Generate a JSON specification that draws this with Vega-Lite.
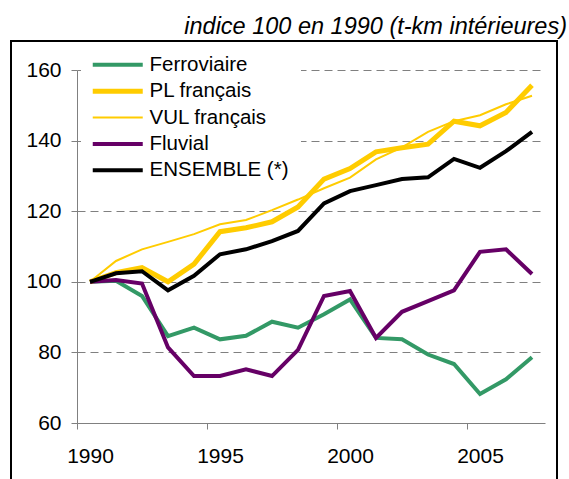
{
  "$schema": "https://vega.github.io/schema/vega-lite/v6.json",
  "autosize": "none",
  "padding": {"left": 11, "top": 41, "right": 12, "bottom": -1},
  "width": 546,
  "height": 439,
  "background": "white",
  "config": {
    "view": {"stroke": "black", "strokeWidth": 2},
    "font": "Liberation Sans",
    "axis": {"labelFont": "Liberation Sans", "labelFontSize": 21, "labelColor": "black", "domainColor": "#808080", "tickColor": "#808080", "domainWidth": 1, "tickWidth": 1},
    "legend": {"labelFont": "Liberation Sans", "labelFontSize": 20.5, "labelColor": "black"}
  },
  "title": {
    "text": "indice 100 en 1990 (t-km intérieures)",
    "anchor": "end",
    "frame": "group",
    "font": "Liberation Sans",
    "fontStyle": "italic",
    "fontWeight": "normal",
    "fontSize": 23.5,
    "color": "black",
    "baseline": "alphabetic",
    "offset": 9,
    "dx": 10,
    "dy": 25
  },
  "data": {
    "values": [
      {"serie": "Ferroviaire", "annee": 1990, "valeur": 100},
      {"serie": "Ferroviaire", "annee": 1991, "valeur": 100.3},
      {"serie": "Ferroviaire", "annee": 1992, "valeur": 96.0},
      {"serie": "Ferroviaire", "annee": 1993, "valeur": 84.6},
      {"serie": "Ferroviaire", "annee": 1994, "valeur": 87.0},
      {"serie": "Ferroviaire", "annee": 1995, "valeur": 83.7},
      {"serie": "Ferroviaire", "annee": 1996, "valeur": 84.7},
      {"serie": "Ferroviaire", "annee": 1997, "valeur": 88.7},
      {"serie": "Ferroviaire", "annee": 1998, "valeur": 87.0},
      {"serie": "Ferroviaire", "annee": 1999, "valeur": 90.8},
      {"serie": "Ferroviaire", "annee": 2000, "valeur": 95.0},
      {"serie": "Ferroviaire", "annee": 2001, "valeur": 84.1},
      {"serie": "Ferroviaire", "annee": 2002, "valeur": 83.7},
      {"serie": "Ferroviaire", "annee": 2003, "valeur": 79.4},
      {"serie": "Ferroviaire", "annee": 2004, "valeur": 76.7},
      {"serie": "Ferroviaire", "annee": 2005, "valeur": 68.2},
      {"serie": "Ferroviaire", "annee": 2006, "valeur": 72.4},
      {"serie": "Ferroviaire", "annee": 2007, "valeur": 78.6},
      {"serie": "PL français", "annee": 1990, "valeur": 100},
      {"serie": "PL français", "annee": 1991, "valeur": 102.6},
      {"serie": "PL français", "annee": 1992, "valeur": 104.0},
      {"serie": "PL français", "annee": 1993, "valeur": 100.0},
      {"serie": "PL français", "annee": 1994, "valeur": 105.0},
      {"serie": "PL français", "annee": 1995, "valeur": 114.2},
      {"serie": "PL français", "annee": 1996, "valeur": 115.3},
      {"serie": "PL français", "annee": 1997, "valeur": 117.0},
      {"serie": "PL français", "annee": 1998, "valeur": 121.2},
      {"serie": "PL français", "annee": 1999, "valeur": 129.1},
      {"serie": "PL français", "annee": 2000, "valeur": 132.1},
      {"serie": "PL français", "annee": 2001, "valeur": 136.8},
      {"serie": "PL français", "annee": 2002, "valeur": 138.0},
      {"serie": "PL français", "annee": 2003, "valeur": 139.0},
      {"serie": "PL français", "annee": 2004, "valeur": 145.5},
      {"serie": "PL français", "annee": 2005, "valeur": 144.2},
      {"serie": "PL français", "annee": 2006, "valeur": 148.0},
      {"serie": "PL français", "annee": 2007, "valeur": 155.7},
      {"serie": "VUL français", "annee": 1990, "valeur": 100},
      {"serie": "VUL français", "annee": 1991, "valeur": 105.9},
      {"serie": "VUL français", "annee": 1992, "valeur": 109.2},
      {"serie": "VUL français", "annee": 1993, "valeur": 111.3},
      {"serie": "VUL français", "annee": 1994, "valeur": 113.5},
      {"serie": "VUL français", "annee": 1995, "valeur": 116.3},
      {"serie": "VUL français", "annee": 1996, "valeur": 117.5},
      {"serie": "VUL français", "annee": 1997, "valeur": 120.3},
      {"serie": "VUL français", "annee": 1998, "valeur": 123.3},
      {"serie": "VUL français", "annee": 1999, "valeur": 126.5},
      {"serie": "VUL français", "annee": 2000, "valeur": 129.5},
      {"serie": "VUL français", "annee": 2001, "valeur": 134.7},
      {"serie": "VUL français", "annee": 2002, "valeur": 138.1},
      {"serie": "VUL français", "annee": 2003, "valeur": 142.5},
      {"serie": "VUL français", "annee": 2004, "valeur": 145.5},
      {"serie": "VUL français", "annee": 2005, "valeur": 147.2},
      {"serie": "VUL français", "annee": 2006, "valeur": 150.3},
      {"serie": "VUL français", "annee": 2007, "valeur": 152.7},
      {"serie": "Fluvial", "annee": 1990, "valeur": 100},
      {"serie": "Fluvial", "annee": 1991, "valeur": 100.5},
      {"serie": "Fluvial", "annee": 1992, "valeur": 99.5},
      {"serie": "Fluvial", "annee": 1993, "valeur": 81.4},
      {"serie": "Fluvial", "annee": 1994, "valeur": 73.3},
      {"serie": "Fluvial", "annee": 1995, "valeur": 73.3},
      {"serie": "Fluvial", "annee": 1996, "valeur": 75.2},
      {"serie": "Fluvial", "annee": 1997, "valeur": 73.3},
      {"serie": "Fluvial", "annee": 1998, "valeur": 80.7},
      {"serie": "Fluvial", "annee": 1999, "valeur": 96.0},
      {"serie": "Fluvial", "annee": 2000, "valeur": 97.4},
      {"serie": "Fluvial", "annee": 2001, "valeur": 84.1},
      {"serie": "Fluvial", "annee": 2002, "valeur": 91.5},
      {"serie": "Fluvial", "annee": 2003, "valeur": 94.5},
      {"serie": "Fluvial", "annee": 2004, "valeur": 97.6},
      {"serie": "Fluvial", "annee": 2005, "valeur": 108.5},
      {"serie": "Fluvial", "annee": 2006, "valeur": 109.2},
      {"serie": "Fluvial", "annee": 2007, "valeur": 102.2},
      {"serie": "ENSEMBLE (*)", "annee": 1990, "valeur": 100},
      {"serie": "ENSEMBLE (*)", "annee": 1991, "valeur": 102.4},
      {"serie": "ENSEMBLE (*)", "annee": 1992, "valeur": 103.0},
      {"serie": "ENSEMBLE (*)", "annee": 1993, "valeur": 97.6},
      {"serie": "ENSEMBLE (*)", "annee": 1994, "valeur": 101.7},
      {"serie": "ENSEMBLE (*)", "annee": 1995, "valeur": 107.8},
      {"serie": "ENSEMBLE (*)", "annee": 1996, "valeur": 109.2},
      {"serie": "ENSEMBLE (*)", "annee": 1997, "valeur": 111.5},
      {"serie": "ENSEMBLE (*)", "annee": 1998, "valeur": 114.4},
      {"serie": "ENSEMBLE (*)", "annee": 1999, "valeur": 122.2},
      {"serie": "ENSEMBLE (*)", "annee": 2000, "valeur": 125.7},
      {"serie": "ENSEMBLE (*)", "annee": 2001, "valeur": 127.4},
      {"serie": "ENSEMBLE (*)", "annee": 2002, "valeur": 129.1},
      {"serie": "ENSEMBLE (*)", "annee": 2003, "valeur": 129.6},
      {"serie": "ENSEMBLE (*)", "annee": 2004, "valeur": 134.8},
      {"serie": "ENSEMBLE (*)", "annee": 2005, "valeur": 132.3},
      {"serie": "ENSEMBLE (*)", "annee": 2006, "valeur": 137.0},
      {"serie": "ENSEMBLE (*)", "annee": 2007, "valeur": 142.5}
    ]
  },
  "mark": {"type": "line", "strokeCap": "butt", "strokeJoin": "miter", "clip": false},
  "encoding": {
    "x": {
      "field": "annee",
      "type": "quantitative",
      "scale": {"domain": [1989.5, 2007.5], "range": [66, 534], "nice": false, "zero": false},
      "axis": {
        "title": null,
        "orient": "bottom",
        "offset": -57,
        "values": [1990, 1995, 2000, 2005],
        "format": "d",
        "grid": false,
        "tickSize": 6,
        "tickOffset": -13,
        "labelOffset": 13,
        "labelPadding": 16,
        "labelFlush": false,
        "labelOverlap": false
      }
    },
    "y": {
      "field": "valeur",
      "type": "quantitative",
      "scale": {"domain": [60, 160], "range": [382, 29], "nice": false, "zero": false},
      "axis": {
        "title": null,
        "orient": "left",
        "offset": -66,
        "values": [60, 80, 100, 120, 140, 160],
        "grid": true,
        "gridColor": "#808080",
        "gridDash": [8, 5],
        "gridWidth": 1,
        "tickSize": 6,
        "labelPadding": 10,
        "labelFlush": false,
        "labelOverlap": false
      }
    },
    "color": {
      "field": "serie",
      "type": "ordinal",
      "scale": {
        "domain": ["Ferroviaire", "PL français", "VUL français", "Fluvial", "ENSEMBLE (*)"],
        "range": ["#339966", "#FFCC00", "#FFCC00", "#660066", "#000000"]
      },
      "legend": {
        "title": null,
        "orient": "none",
        "legendX": 70,
        "legendY": 1.5,
        "padding": 12,
        "fillColor": "white",
        "strokeColor": null,
        "symbolType": "M-5,0H5",
        "symbolSize": 100,
        "symbolOffset": 14.5,
        "labelOffset": 21.5,
        "rowPadding": 5.4,
        "labelFontSize": 20.5
      }
    },
    "strokeWidth": {
      "field": "serie",
      "type": "ordinal",
      "scale": {
        "type": "ordinal",
        "domain": ["Ferroviaire", "PL français", "VUL français", "Fluvial", "ENSEMBLE (*)"],
        "range": [4, 5, 2, 4, 4]
      },
      "legend": {
        "title": null,
        "orient": "none",
        "legendX": 70,
        "legendY": 1.5,
        "padding": 12,
        "fillColor": "white",
        "strokeColor": null,
        "symbolType": "M-5,0H5",
        "symbolSize": 100,
        "symbolOffset": 14.5,
        "labelOffset": 21.5,
        "rowPadding": 5.4,
        "labelFontSize": 20.5
      }
    }
  }
}
